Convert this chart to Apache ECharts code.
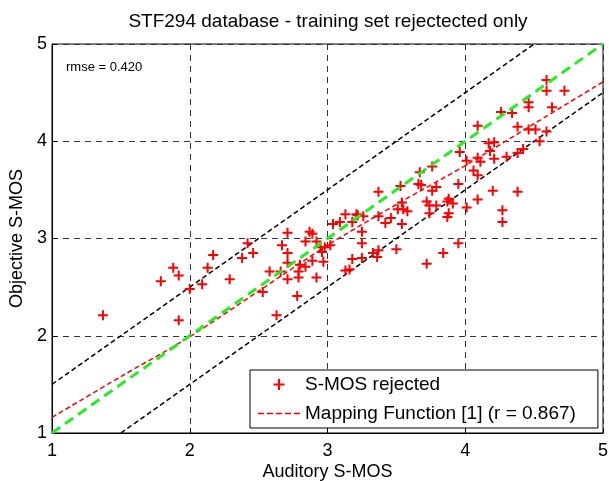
<!DOCTYPE html>
<html>
<head>
<meta charset="utf-8">
<script src="https://cdn.jsdelivr.net/npm/echarts@6/dist/echarts.min.js"></script>
<style>
  html, body { margin: 0; padding: 0; background: #fff; }
  #chart { width: 609px; height: 481px; }
</style>
</head>
<body>
<div id="chart"></div>
<script>
// 散点数据：Auditory S-MOS / Objective S-MOS
const auditory = [
  1.37, 1.79, 1.88, 1.92, 1.92, 2.00, 2.09, 2.13, 2.17, 2.29,
  2.38, 2.42, 2.46, 2.53, 2.58, 2.63, 2.66, 2.67, 2.71, 2.71,
  2.71, 2.71, 2.78, 2.79, 2.79, 2.80, 2.84, 2.84, 2.87, 2.89,
  2.89, 2.92, 2.92, 2.95, 2.96, 2.97, 2.98, 3.02, 3.04, 3.09,
  3.13, 3.13, 3.16, 3.18, 3.18, 3.21, 3.25, 3.22, 3.25, 3.25,
  3.26, 3.33, 3.36, 3.37, 3.37, 3.37, 3.42, 3.46, 3.50, 3.51,
  3.54, 3.54, 3.53, 3.55, 3.58, 3.66, 3.68, 3.67, 3.72, 3.72,
  3.74, 3.74, 3.76, 3.76, 3.79, 3.79, 3.84, 3.87, 3.88, 3.91,
  3.87, 3.88, 3.95, 3.96, 3.95, 4.01, 4.01, 4.06, 4.09, 4.09,
  4.11, 4.09, 4.09, 4.17, 4.21, 4.18, 4.21, 4.20, 4.27, 4.27,
  4.26, 4.30, 4.34, 4.38, 4.38, 4.38, 4.42, 4.46, 4.46, 4.46,
  4.51, 4.54, 4.59, 4.59, 4.59, 4.63, 4.72
]
const objective = [
  2.21, 2.56, 2.70, 2.62, 2.16, 2.48, 2.53, 2.70, 2.83, 2.58,
  2.80, 2.95, 2.85, 2.45, 2.66, 2.21, 2.66, 2.93, 3.06, 2.85,
  2.75, 2.58, 2.41, 2.60, 2.66, 2.73, 2.97, 2.71, 3.07, 3.05,
  2.77, 2.97, 2.60, 2.91, 2.86, 2.76, 2.91, 2.93, 3.15, 3.17,
  3.25, 2.67, 2.68, 2.79, 3.17, 3.25, 2.95, 3.24, 3.07, 2.80,
  3.23, 2.85, 2.81, 2.88, 3.48, 3.23, 3.16, 3.21, 2.89, 3.30,
  3.37, 3.15, 3.54, 3.30, 3.28, 3.56, 3.55, 3.68, 3.38, 2.74,
  3.34, 3.26, 3.74, 3.49, 3.53, 3.34, 2.85, 3.38, 3.41, 3.36,
  3.22, 3.26, 3.56, 3.89, 2.95, 3.80, 3.32, 3.70, 3.65, 3.83,
  3.79, 4.16, 3.40, 3.98, 3.99, 3.90, 3.82, 3.49, 3.29, 3.17,
  4.30, 3.84, 4.29, 4.15, 3.88, 3.48, 3.92, 4.40, 4.35, 4.12,
  4.12, 4.00, 4.63, 4.52, 4.10, 4.35, 4.52
]

// 映射函数曲线（红色虚线）
const mapX = [1, 1.5, 2, 2.5, 3, 3.5, 4, 4.5, 5]
const mapY = [1.16, 1.58, 1.99, 2.46, 2.93, 3.35, 3.75, 4.18, 4.61]

// 参考线：y = x 以及 ±0.5 边界
const diagX = [1, 5]
const diagY = [1, 5]
const upperX = [1, 4.5]
const upperY = [1.5, 5]
const lowerX = [1.5, 5]
const lowerY = [1, 4.5]

// 刻度
const ticks = [1, 2, 3, 4, 5]

const FONT = "'Liberation Sans', Arial, sans-serif"
const zip = (xs, ys) => xs.map((x, i) => [x, ys[i]])

// 红色 “+” 标记与图例中的虚线图标
const PLUS = 'path://M-0.2,-1H0.2V-0.2H1V0.2H0.2V1H-0.2V0.2H-1V-0.2H-0.2Z'
const DASH_ICON = 'path://M0,0h6v1.6h-6z M9,0h6v1.6h-6z M18,0h6v1.6h-6z M27,0h6v1.6h-6z M36,0h6v1.6h-6z'

const axisCommon = {
  type: 'value',
  min: ticks[0],
  max: ticks[ticks.length - 1],
  interval: 1,
  axisLine: { show: true, lineStyle: { color: '#000', width: 1 } },
  axisTick: { show: true, inside: true, length: 5, lineStyle: { color: '#000' } },
  splitLine: { show: true, lineStyle: { color: '#333', width: 1, type: [6, 5] } },
  axisLabel: { color: '#000', fontSize: 18, fontFamily: FONT, showMinLabel: true, showMaxLabel: true },
  nameLocation: 'middle',
  nameMoveOverlap: false,
  nameTextStyle: { color: '#000', fontSize: 18, fontFamily: FONT },
}

const chart = echarts.init(document.getElementById('chart'))
chart.setOption({
  animation: false,
  backgroundColor: '#fff',
  grid: {
    left: 52, right: 6, top: 44, bottom: 48,
    outerBoundsMode: 'none',   // 固定绘图区，不因标签溢出而缩小
    show: true, borderColor: '#000', borderWidth: 1, backgroundColor: '#fff',
  },
  graphic: [
    { type: 'text', x: 328, y: 22, style: { text: 'STF294 database - training set rejectected only', fontSize: 19, fontFamily: FONT, fill: '#000', align: 'center', verticalAlign: 'middle' } },
    { type: 'text', x: 66, y: 67, z: 10, style: { text: 'rmse = 0.420', fontSize: 13, fontFamily: FONT, fill: '#000', align: 'left', verticalAlign: 'middle' } },
  ],
  legend: {
    orient: 'vertical',
    left: 250,
    top: 370,
    padding: [5, 22, 5, 8],
    itemGap: 10,
    itemWidth: 42,
    itemHeight: 11,
    backgroundColor: '#fff',
    borderColor: '#000',
    borderWidth: 1,
    borderRadius: 0,
    textStyle: { color: '#000', fontSize: 19, fontFamily: FONT },
    data: [
      { name: 'S-MOS rejected', icon: PLUS, itemStyle: { color: '#ff0000' } },
      { name: 'Mapping Function [1] (r = 0.867)', icon: DASH_ICON, itemStyle: { color: '#ff0000' } },
    ],
  },
  xAxis: { ...axisCommon, name: 'Auditory S-MOS', nameGap: 30, axisLabel: { ...axisCommon.axisLabel, margin: 9 } },
  yAxis: { ...axisCommon, name: 'Objective S-MOS', nameGap: 26, axisLabel: { ...axisCommon.axisLabel, margin: 5 } },
  series: [
    {
      name: 'upper', type: 'line', data: zip(upperX, upperY), symbol: 'none', silent: true,
      lineStyle: { color: '#000', width: 1.5, type: [5, 3] },
    },
    {
      name: 'lower', type: 'line', data: zip(lowerX, lowerY), symbol: 'none', silent: true,
      lineStyle: { color: '#000', width: 1.5, type: [5, 3] },
    },
    {
      name: 'Mapping Function [1] (r = 0.867)', type: 'line', data: zip(mapX, mapY), symbol: 'none', smooth: 0.3,
      lineStyle: { color: '#ff0000', width: 1.5, type: [5, 3] }, itemStyle: { color: '#ff0000' }, z: 3,
    },
    {
      name: 'S-MOS rejected', type: 'scatter', data: zip(auditory, objective),
      symbol: PLUS, symbolSize: 10, itemStyle: { color: '#ff0000', opacity: 1 }, z: 4,
    },
    {
      name: 'identity', type: 'line', data: zip(diagX, diagY), symbol: 'none', silent: true,
      lineStyle: { color: '#22ee22', width: 3, type: [10, 6] }, z: 5,
    },
  ],
})
window.addEventListener('resize', () => chart.resize())
</script>
</body>
</html>
